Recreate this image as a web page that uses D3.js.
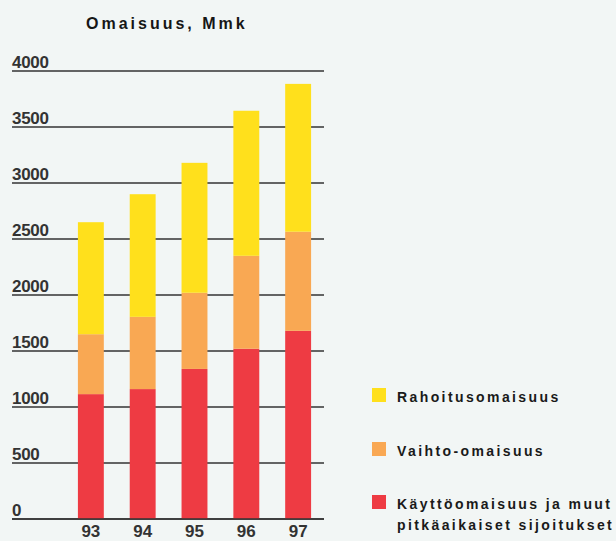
<!DOCTYPE html>
<html>
<head>
<meta charset="utf-8">
<script src="https://cdn.jsdelivr.net/npm/d3@7"></script>
<style>
  html, body { margin: 0; padding: 0; background: #f2f6f5; }
  svg { display: block; }
</style>
</head>
<body>
<svg id="chart" width="616" height="541"></svg>
<script>
// Asset breakdown by year, Mmk
const years = ["93", "94", "95", "96", "97"];
const kayttoomaisuus = [1115, 1160, 1340, 1520, 1680];
const vaihtoomaisuus = [535, 645, 680, 830, 885];
const rahoitusomaisuus = [1000, 1095, 1160, 1295, 1320];
const yTicks = [0, 500, 1000, 1500, 2000, 2500, 3000, 3500, 4000];

const seriesKeys = ["kaytto", "vaihto", "rahoitus"];
const colors = { kaytto: "#ee3b43", vaihto: "#f9a853", rahoitus: "#ffe01c" };

const rows = years.map((y, i) => ({
  year: y,
  kaytto: kayttoomaisuus[i],
  vaihto: vaihtoomaisuus[i],
  rahoitus: rahoitusomaisuus[i]
}));

const svg = d3.select("#chart");

const y = d3.scaleLinear().domain([0, 4000]).range([519, 71]);
const x = d3.scaleBand().domain(years).range([52, 337]).paddingInner(0.5).paddingOuter(0.5);

// Horizontal gridlines with their value labels above each line
const grid = svg.append("g");
grid.selectAll("line").data(yTicks).join("line")
  .attr("x1", 12).attr("x2", 324)
  .attr("y1", d => y(d)).attr("y2", d => y(d))
  .attr("stroke", "#333").attr("stroke-width", 1.5);
grid.selectAll("text").data(yTicks).join("text")
  .attr("x", 12).attr("y", d => y(d) - 3)
  .attr("font-family", "Liberation Sans, Arial, sans-serif")
  .attr("font-weight", "bold").attr("font-size", 17)
  .attr("letter-spacing", -0.3)
  .attr("fill", "#333")
  .text(d => d);

// Stacked bars
const stack = d3.stack().keys(seriesKeys)(rows);
svg.append("g").selectAll("g").data(stack).join("g")
  .attr("fill", s => colors[s.key])
  .selectAll("rect").data(s => s).join("rect")
  .attr("x", d => x(d.data.year))
  .attr("width", x.bandwidth())
  .attr("y", d => y(d[1]))
  .attr("height", d => y(d[0]) - y(d[1]));

// Redraw the baseline over the bars
svg.append("line")
  .attr("x1", 12).attr("x2", 324)
  .attr("y1", y(0)).attr("y2", y(0))
  .attr("stroke", "#333").attr("stroke-width", 1.5);

// Year labels
svg.append("g").selectAll("text").data(years).join("text")
  .attr("x", d => x(d) + x.bandwidth() / 2)
  .attr("y", 537)
  .attr("text-anchor", "middle")
  .attr("font-family", "Liberation Sans, Arial, sans-serif")
  .attr("font-weight", "bold").attr("font-size", 17)
  .attr("fill", "#333")
  .text(d => d);

// Title
svg.append("text")
  .attr("x", 86).attr("y", 29)
  .attr("font-family", "Liberation Sans, Arial, sans-serif")
  .attr("font-size", 16).attr("font-weight", "bold")
  .attr("letter-spacing", 3)
  .attr("fill", "#161616")
  .text("Omaisuus, Mmk");

// Legend
const legendItems = [
  { key: "rahoitus", lines: ["Rahoitusomaisuus"], top: 388 },
  { key: "vaihto", lines: ["Vaihto-omaisuus"], top: 442 },
  { key: "kaytto", lines: ["Käyttöomaisuus ja muut", "pitkäaikaiset sijoitukset"], top: 495 }
];
const legend = svg.append("g");
legendItems.forEach(item => {
  legend.append("rect")
    .attr("x", 372).attr("y", item.top)
    .attr("width", 14).attr("height", 14)
    .attr("fill", colors[item.key]);
  const t = legend.append("text")
    .attr("font-family", "Liberation Sans, Arial, sans-serif")
    .attr("font-weight", "bold").attr("font-size", 14)
    .attr("letter-spacing", 2.4)
    .attr("fill", "#1a1a1a");
  item.lines.forEach((line, j) => {
    t.append("tspan")
      .attr("x", 397).attr("y", item.top + 14 + j * 21)
      .text(line);
  });
});
</script>
</body>
</html>
